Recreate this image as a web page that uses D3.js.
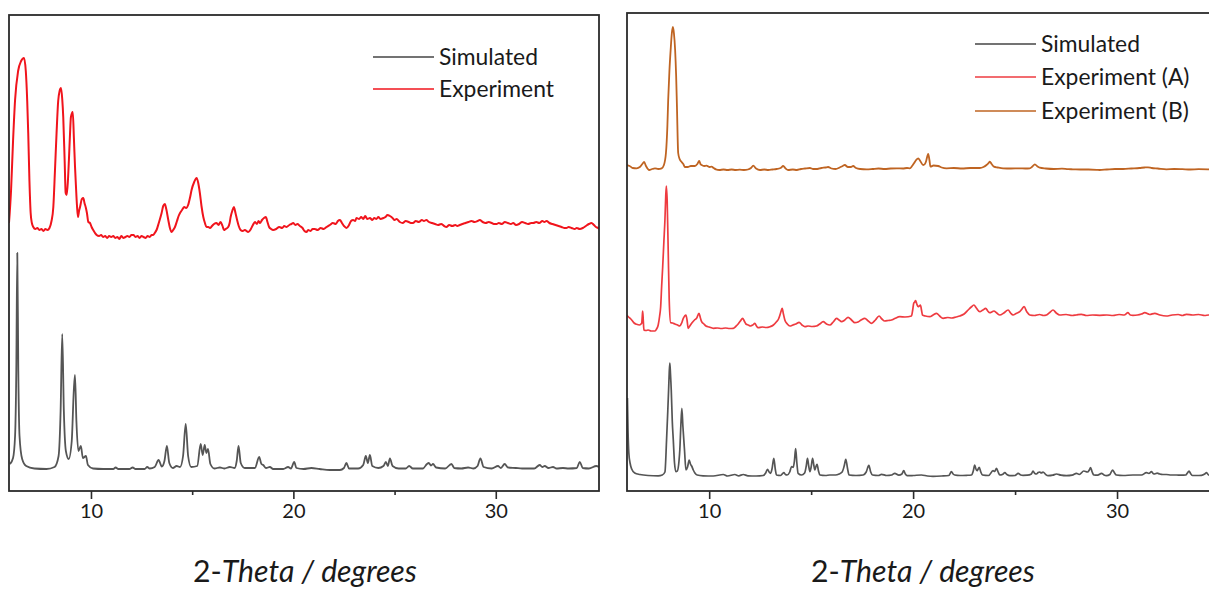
<!DOCTYPE html>
<html><head><meta charset="utf-8">
<script src="https://cdn.jsdelivr.net/npm/d3@7"></script>
<style>
html,body{margin:0;padding:0;background:#fff;}
svg{display:block;font-family:Lato,"Open Sans",sans-serif;}
</style></head>
<body><svg id="chart" width="1209" height="590"></svg>
<script>
// ---------- data (2-theta in degrees, intensity in arbitrary units) ----------
const majorTicks = [10, 20, 30];
const minorTicks = [15, 25];
const axisTitleUpright = "2-";
const axisTitleItalic = "Theta / degrees";
const leftLegend = ["Simulated", "Experiment"];
const rightLegend = ["Simulated", "Experiment (A)", "Experiment (B)"];

const leftSimulated = [[6.0,27],[6.15,33],[6.25,55],[6.31,120],[6.36,238],[6.41,120],[6.47,55],[6.6,32],[6.8,25],[7.2,22.5],[7.8,22],[8.2,24],[8.4,35],[8.5,80],[8.58,157],[8.66,80],[8.76,40],[8.9,32],[9.05,50],[9.15,100],[9.21,116],[9.28,70],[9.38,40],[9.5,45],[9.6,33],[9.75,35],[9.85,26],[10.1,22.5],[10.6,22],[11.1,22],[11.22,23.5],[11.35,22],[11.9,22],[12.06,23.5],[12.2,22],[12.65,22],[12.78,24],[12.9,22.5],[13.15,24],[13.34,31],[13.5,24.5],[13.63,30],[13.75,45],[13.87,28],[14.05,23],[14.23,25],[14.4,24],[14.55,35],[14.68,67],[14.8,35],[14.95,24],[15.25,25],[15.42,47],[15.52,36],[15.62,46],[15.7,38],[15.78,42],[15.9,27],[16.1,22.5],[16.37,23.5],[16.6,22.5],[16.86,24],[17.1,23],[17.2,30],[17.29,45],[17.4,28],[17.6,23],[18.1,23],[18.31,34],[18.42,27],[18.51,26],[18.65,23],[18.84,24],[19.0,22],[19.5,22],[19.74,24],[19.88,22.5],[20.04,29],[20.15,23],[20.5,22],[20.89,23],[21.3,22],[21.8,21],[22.3,21],[22.5,23],[22.62,28],[22.75,22.5],[23.2,22.5],[23.45,26],[23.58,35],[23.68,28],[23.78,36],[23.9,25],[24.2,23],[24.45,25],[24.57,29],[24.67,25],[24.77,32.7],[24.9,25],[25.2,22.5],[25.55,22.5],[25.72,25],[25.9,22.5],[26.4,22.5],[26.6,27],[26.69,28],[26.8,25.5],[26.9,27],[27.05,23.5],[27.5,22.5],[27.81,27],[27.95,23],[28.3,22.5],[28.63,23.5],[28.9,22.5],[29.1,25],[29.24,32.7],[29.4,24],[29.8,22.5],[30.11,25],[30.25,23],[30.44,27],[30.6,23.5],[30.99,23],[31.3,22.5],[31.9,22.5],[32.17,26],[32.3,24],[32.42,25],[32.6,23],[32.83,24],[33.0,22.5],[33.32,23],[33.6,22.5],[34.0,23],[34.15,29],[34.3,23],[34.6,22.5],[34.97,25],[35.1,24]];

const leftExperiment = [[5.95,268],[6.05,300],[6.15,350],[6.25,391],[6.4,420],[6.55,430],[6.69,433],[6.78,420],[6.85,390],[6.9,358],[6.96,310],[7.02,278],[7.08,268],[7.15,264],[7.25,262],[7.35,263],[7.45,261],[7.55,262],[7.65,260],[7.75,262],[7.85,261],[7.95,263],[8.05,270],[8.14,284],[8.22,320],[8.3,358],[8.38,390],[8.45,400],[8.52,403],[8.58,392],[8.63,374],[8.7,330],[8.75,298],[8.8,296],[8.86,310],[8.91,331],[8.96,355],[9.01,374],[9.1,379],[9.16,351],[9.21,325],[9.26,304],[9.31,285],[9.36,274],[9.41,280],[9.46,284],[9.55,292],[9.62,293],[9.68,288],[9.75,283],[9.8,278],[9.87,269],[9.95,268],[10.03,264],[10.11,261],[10.2,258],[10.28,256],[10.4,255],[10.5,256],[10.6,254],[10.7,255],[10.8,253],[10.9,255],[11.0,254],[11.1,255],[11.2,253],[11.3,254],[11.4,252],[11.5,255],[11.6,253],[11.7,254],[11.8,255],[11.9,254],[12.0,256],[12.1,256],[12.2,254],[12.3,255],[12.4,253],[12.5,255],[12.6,254],[12.7,253],[12.8,255],[12.9,254],[13.0,256],[13.07,256],[13.15,258],[13.24,261],[13.35,268],[13.49,278],[13.57,285],[13.65,287],[13.72,282],[13.82,271],[13.9,263],[13.98,259],[14.06,261],[14.15,264],[14.25,270],[14.33,275],[14.4,278],[14.5,281],[14.61,284],[14.7,283],[14.8,286],[14.9,294],[14.97,301],[15.1,309],[15.22,313],[15.3,308],[15.38,298],[15.46,285],[15.55,274],[15.63,268],[15.71,264],[15.8,264],[15.88,263],[15.98,265],[16.08,267],[16.2,268],[16.3,266],[16.4,269],[16.5,265],[16.57,261],[16.65,262],[16.78,264],[16.85,268],[16.9,274],[16.98,280],[17.06,284],[17.14,278],[17.22,271],[17.3,265],[17.39,261],[17.5,260],[17.6,261],[17.77,259],[17.9,262],[18.0,266],[18.1,269],[18.2,267],[18.28,270],[18.35,268],[18.45,271],[18.55,273],[18.64,274],[18.72,269],[18.8,264],[18.9,262],[19.0,261],[19.15,262],[19.3,264],[19.45,263],[19.55,265],[19.66,264],[19.8,266],[19.9,267],[19.99,268],[20.1,266],[20.2,267],[20.32,265],[20.45,263],[20.55,260],[20.65,259],[20.73,261],[20.85,260],[20.95,262],[21.06,262],[21.2,261],[21.35,263],[21.5,262],[21.64,264],[21.8,266],[21.95,268],[22.1,267],[22.2,270],[22.3,271],[22.4,268],[22.5,265],[22.62,263],[22.75,266],[22.85,270],[22.95,271],[23.05,270],[23.12,273],[23.25,272],[23.35,274],[23.45,272],[23.55,275],[23.65,272],[23.78,273],[23.9,271],[24.0,273],[24.1,272],[24.2,274],[24.3,272],[24.45,273],[24.55,274],[24.65,276],[24.77,275],[24.9,273],[25.0,271],[25.1,272],[25.26,269],[25.4,268],[25.55,270],[25.7,269],[25.8,268],[25.91,268],[26.05,270],[26.2,269],[26.35,271],[26.45,270],[26.57,271],[26.7,269],[26.85,268],[27.0,267],[27.15,266],[27.3,267],[27.45,265],[27.56,264],[27.7,266],[27.85,265],[28.0,266],[28.1,265],[28.22,266],[28.35,267],[28.5,268],[28.65,269],[28.8,270],[28.95,269],[29.1,270],[29.21,271],[29.35,269],[29.5,268],[29.65,269],[29.8,268],[29.9,267],[30.04,267],[30.15,268],[30.3,267],[30.45,269],[30.6,268],[30.75,267],[30.86,268],[31.0,266],[31.15,267],[31.3,269],[31.45,268],[31.6,267],[31.75,268],[31.85,268],[32.0,269],[32.15,268],[32.3,270],[32.4,269],[32.51,270],[32.65,268],[32.8,267],[32.95,266],[33.1,265],[33.25,264],[33.4,263],[33.49,263],[33.6,264],[33.75,263],[33.9,262],[34.0,263],[34.15,262],[34.3,263],[34.45,265],[34.6,267],[34.73,268],[34.85,266],[34.95,264],[35.05,263],[35.1,262]];

const rightSimulated = [[5.99,93],[6.02,60],[6.06,38],[6.12,28],[6.2,22],[6.35,18],[6.6,16.5],[7.0,15.5],[7.5,15.2],[7.7,16],[7.83,19],[7.91,51],[7.97,80],[8.01,101],[8.04,118],[8.07,128],[8.1,118],[8.14,101],[8.19,70],[8.24,51],[8.3,28],[8.37,19.3],[8.44,20],[8.52,30],[8.56,41],[8.61,65],[8.66,82.7],[8.71,65],[8.79,41],[8.86,21],[8.94,24],[9.02,31],[9.08,27],[9.14,25],[9.22,21],[9.3,18],[9.41,16],[9.7,15.2],[10.2,15],[10.69,16.5],[10.9,15],[11.26,16.5],[11.45,15.2],[11.67,16.5],[11.9,15.2],[12.3,15],[12.65,15.5],[12.77,18],[12.86,21.7],[12.94,19],[13.01,17.7],[13.08,22],[13.17,32.7],[13.24,22],[13.3,16],[13.5,15.5],[13.66,18.3],[13.74,16.5],[13.82,16],[13.95,19],[14.04,24.3],[14.12,23.7],[14.18,30],[14.24,42.3],[14.3,28],[14.36,17.7],[14.53,16],[14.68,18],[14.76,25],[14.82,32.7],[14.88,25],[14.94,19.3],[15.0,24],[15.07,32.7],[15.13,26],[15.18,21],[15.23,24],[15.29,26.7],[15.36,20],[15.43,16],[15.7,15.5],[15.92,16],[16.2,16],[16.37,17],[16.52,19],[16.62,25],[16.7,31.7],[16.78,23],[16.86,16],[17.2,15.5],[17.55,16],[17.7,19],[17.83,25.7],[17.92,19],[18.01,16],[18.3,15.5],[18.45,16.7],[18.7,15.5],[18.95,16],[19.1,17.7],[19.3,15.8],[19.45,17],[19.54,20.3],[19.62,17],[19.71,15.3],[20.0,15.5],[20.41,16],[20.7,15],[20.98,14.7],[21.4,15],[21.75,15.5],[21.88,19.3],[21.96,17],[22.04,16],[22.3,15.5],[22.62,15.7],[22.86,16],[22.95,20],[23.02,26],[23.08,22],[23.14,20.3],[23.19,22],[23.24,23.7],[23.32,19],[23.4,16],[23.7,15.5],[23.92,20.3],[24.0,19.5],[24.09,22.7],[24.17,19],[24.25,16],[24.38,16.5],[24.5,18.3],[24.6,16.5],[24.74,15.3],[25.0,15.5],[25.15,17.7],[25.28,16],[25.39,15.7],[25.6,15.8],[25.8,17],[25.88,20],[25.97,17.5],[26.05,17],[26.13,18.5],[26.21,19],[26.29,18],[26.37,19],[26.5,16.5],[26.62,15.3],[26.85,15.8],[27.03,17],[27.25,15.8],[27.52,15.3],[27.8,15.8],[28.01,17.7],[28.15,16.5],[28.37,20],[28.55,19],[28.64,21],[28.7,23.3],[28.78,19],[28.86,16],[29.05,15.8],[29.24,17.7],[29.36,16],[29.48,15.3],[29.65,16.5],[29.78,21],[29.88,18],[29.97,16],[30.3,15.5],[30.78,16],[31.2,16],[31.44,18.3],[31.56,17.5],[31.69,19.3],[31.77,17.5],[31.85,17],[31.97,17.8],[32.09,17],[32.25,16.5],[32.42,16.5],[32.65,16],[32.91,16],[33.15,15.8],[33.37,16],[33.45,18],[33.53,20],[33.62,17],[33.7,15.5],[33.9,15.5],[34.14,15.7],[34.3,17],[34.39,18.3],[34.49,16],[34.8,15.5],[35.0,15.5]];

const rightExperimentA = [[5.95,176],[6.05,174],[6.2,171],[6.32,168],[6.44,166.7],[6.58,166],[6.69,167.7],[6.72,175],[6.74,180],[6.77,170],[6.8,161],[6.9,160.5],[7.01,161],[7.15,160],[7.34,160],[7.42,162],[7.5,166],[7.57,175],[7.62,184],[7.67,205],[7.72,224],[7.78,250],[7.83,271],[7.87,295],[7.9,305],[7.94,290],[7.99,241],[8.04,191],[8.11,168.3],[8.2,168],[8.32,167],[8.45,166],[8.56,165],[8.65,168],[8.73,172.7],[8.8,175],[8.86,176],[8.92,170],[8.97,162.7],[9.05,165],[9.15,168],[9.28,171],[9.38,172.7],[9.5,177.7],[9.57,173],[9.63,169.3],[9.74,167],[9.84,165],[10.0,164],[10.2,162.7],[10.4,163],[10.6,162.5],[10.8,163],[11.0,162.5],[11.18,162.7],[11.3,164.5],[11.42,167],[11.53,170],[11.64,172.7],[11.72,170],[11.8,167],[11.92,166],[12.03,165],[12.14,166],[12.24,167.7],[12.32,165],[12.4,163.3],[12.6,164],[12.8,163.5],[12.98,164.3],[13.15,166],[13.3,169.3],[13.4,172],[13.47,176],[13.53,180],[13.58,182.7],[13.64,177],[13.71,171],[13.83,167],[13.96,165],[14.1,166],[14.25,167],[14.41,168.7],[14.55,166],[14.69,164.3],[14.85,165],[15.05,164.5],[15.26,165],[15.42,167],[15.59,169.3],[15.75,167],[15.92,166],[16.08,169],[16.25,172.7],[16.37,171],[16.49,169.3],[16.65,171],[16.81,173.7],[16.98,171],[17.14,168.3],[17.3,169],[17.45,171],[17.63,172.7],[17.8,170],[17.96,167.7],[18.15,171],[18.33,175],[18.47,172],[18.61,170],[18.78,170.5],[18.94,171],[19.1,172.5],[19.35,174.3],[19.6,174],[19.92,175],[19.98,181],[20.03,187.7],[20.08,189],[20.12,190.3],[20.18,187],[20.25,184.3],[20.3,185],[20.36,186],[20.41,181],[20.46,176],[20.6,175],[20.82,174.3],[20.98,176],[21.15,177.7],[21.3,175],[21.47,172.7],[21.7,173.5],[21.9,173],[22.1,174],[22.29,175],[22.5,177],[22.7,181],[22.85,184],[22.98,186],[23.1,183],[23.27,179.3],[23.42,181],[23.56,182.7],[23.66,180],[23.76,178.3],[23.86,179],[23.96,180],[24.1,178],[24.25,176],[24.45,178],[24.66,181],[24.78,178],[24.9,176],[25.05,177.5],[25.23,179.3],[25.34,182],[25.44,184.3],[25.58,179],[25.72,176],[25.95,175.5],[26.2,176.5],[26.4,175.5],[26.54,176],[26.7,178.5],[26.86,181],[27.02,178],[27.19,176],[27.5,176.5],[27.8,175.5],[28.0,176],[28.25,176.7],[28.5,175.5],[28.8,176],[29.15,175.7],[29.5,176],[29.8,175.5],[30.1,176.5],[30.35,176],[30.54,178.3],[30.65,176],[30.78,175.7],[31.0,176],[31.2,177],[31.36,178.3],[31.6,176.5],[31.85,177.7],[32.1,176],[32.42,175],[32.7,176],[33.0,176.5],[33.2,175.5],[33.4,176.7],[33.7,176],[34.0,176.5],[34.3,175.5],[34.49,176],[35.0,176]];

const rightExperimentB = [[5.95,326],[6.1,325],[6.25,323],[6.44,322.7],[6.6,324],[6.72,327],[6.81,329],[6.9,325],[7.06,321],[7.2,322],[7.34,322.7],[7.5,322],[7.67,322.7],[7.78,326],[7.88,338],[7.95,365],[7.99,391],[8.05,420],[8.11,441],[8.17,458],[8.22,464],[8.27,458],[8.33,441],[8.38,415],[8.42,384],[8.48,338],[8.55,332],[8.65,329],[8.73,327],[8.81,324],[8.95,324],[9.1,325],[9.3,325],[9.42,327],[9.51,330],[9.57,327],[9.63,326],[9.75,325],[9.87,325.3],[10.0,324],[10.12,324.3],[10.22,323],[10.33,321.7],[10.5,321],[10.7,321.5],[10.9,321],[11.1,321.5],[11.3,321],[11.5,321.3],[11.7,321],[11.9,321.5],[12.05,323],[12.16,325.3],[12.3,322.5],[12.49,321],[12.7,321.5],[12.9,321],[13.1,321.5],[13.3,322],[13.5,323],[13.63,325],[13.75,322.5],[13.87,321],[14.1,321.5],[14.3,321],[14.5,322],[14.7,322.5],[14.94,323],[15.1,322],[15.3,322],[15.5,323],[15.7,323.5],[15.83,324],[16.0,322.5],[16.2,322],[16.4,323.5],[16.55,325],[16.65,326],[16.8,324],[16.95,324],[17.06,325],[17.2,323],[17.4,322],[17.72,321.7],[18.0,322],[18.3,322.5],[18.6,322],[18.9,322.5],[19.2,322.7],[19.5,322.5],[19.7,323],[19.84,322.7],[19.95,325],[20.05,328],[20.15,331],[20.25,332.7],[20.35,330],[20.49,326],[20.58,327],[20.64,330],[20.7,335],[20.74,337],[20.8,331],[20.85,324.3],[21.0,325.5],[21.23,325],[21.4,323.5],[21.64,322.7],[22.0,323],[22.4,322.5],[22.8,323],[23.1,323],[23.27,323],[23.45,324],[23.6,326],[23.7,328],[23.76,329.3],[23.85,327],[23.96,324.3],[24.15,323.5],[24.41,322.7],[24.8,322.5],[25.2,322.7],[25.5,322.5],[25.72,322.7],[25.85,324.5],[25.97,326.7],[26.1,324.5],[26.21,323.3],[26.5,322.5],[26.9,322],[27.3,322.3],[27.6,321.8],[27.84,321.7],[28.2,321.5],[28.6,321.5],[29.0,321.2],[29.15,321],[29.5,321.5],[29.9,322],[30.3,322],[30.7,322.5],[31.1,323],[31.35,323.5],[31.52,323.7],[31.7,323],[32.0,322.5],[32.42,321.7],[32.8,322],[33.2,321.8],[33.6,321.5],[34.0,321.8],[34.49,321.7],[35.0,321.5]];

// ---------- drawing ----------
const svg = d3.select("#chart");
const FONT = "Lato, 'Open Sans', sans-serif";

function fitSize(text, targetWidth, italic) {
  const t = svg.append("text").attr("font-size", 100).attr("font-family", FONT)
    .style("font-style", italic ? "italic" : "normal").text(text);
  const w = t.node().getComputedTextLength();
  t.remove();
  return 100 * targetWidth / w;
}
const legendSize = fitSize("Simulated", 99, false);
const tickFont = 20;

const panels = [
  { id: "L", x: [9, 599], y: [491, 15], xDomain: [5.95, 35.1], yDomain: [0, 476],
    series: [
      { data: leftSimulated, color: "#555555", width: 1.8 },
      { data: leftExperiment, color: "#f0141c", width: 2 }
    ],
    legend: { labels: leftLegend, colors: ["#444444", "#f0141c"], x1: 373, x2: 434, ys: [57, 89] },
    titleX: 305 },
  { id: "R", x: [627, 1219], y: [491, 13], xDomain: [5.97, 35], yDomain: [0, 478],
    series: [
      { data: rightSimulated, color: "#555555", width: 1.7 },
      { data: rightExperimentA, color: "#ee3b40", width: 1.7 },
      { data: rightExperimentB, color: "#bf6422", width: 1.8 }
    ],
    legend: { labels: rightLegend, colors: ["#444444", "#ee3b40", "#bf6422"], x1: 975, x2: 1036, ys: [44, 77, 111] },
    titleX: 923 }
];

panels.forEach(p => {
  const xs = d3.scaleLinear().domain(p.xDomain).range(p.x);
  const ys = d3.scaleLinear().domain(p.yDomain).range(p.y);
  const g = svg.append("g");

  g.append("clipPath").attr("id", "clip" + p.id).append("rect")
    .attr("x", p.x[0]).attr("y", p.y[1]).attr("width", p.x[1] - p.x[0]).attr("height", p.y[0] - p.y[1]);

  const line = d3.line().x(d => xs(d[0])).y(d => ys(d[1])).curve(d3.curveMonotoneX);
  p.series.forEach(s => {
    g.append("path").datum(s.data).attr("clip-path", `url(#clip${p.id})`)
      .attr("d", line).attr("fill", "none").attr("stroke", s.color)
      .attr("stroke-width", s.width).attr("stroke-linejoin", "round");
  });

  // frame
  g.append("rect").attr("x", p.x[0]).attr("y", p.y[1])
    .attr("width", p.x[1] - p.x[0]).attr("height", p.y[0] - p.y[1])
    .attr("fill", "none").attr("stroke", "#2b2b2b").attr("stroke-width", 1.8);

  // axes
  const ax = g.append("g").attr("transform", `translate(0,${p.y[0]})`)
    .call(d3.axisBottom(xs).tickValues(majorTicks).tickSize(8).tickPadding(5).tickFormat(d3.format("d")));
  ax.attr("font-size", tickFont).attr("font-family", FONT);
  ax.select(".domain").remove();
  ax.selectAll("line").attr("stroke", "#2b2b2b").attr("stroke-width", 1.6);
  ax.selectAll("text").style("font-size", tickFont + "px").attr("fill", "#1a1a1a");

  const axm = g.append("g").attr("transform", `translate(0,${p.y[0]})`)
    .call(d3.axisBottom(xs).tickValues(minorTicks).tickSize(4).tickFormat(""));
  axm.select(".domain").remove();
  axm.selectAll("line").attr("stroke", "#2b2b2b").attr("stroke-width", 1.6);

  // legend
  p.legend.labels.forEach((lab, i) => {
    const yy = p.legend.ys[i];
    g.append("line").attr("x1", p.legend.x1).attr("x2", p.legend.x2).attr("y1", yy).attr("y2", yy)
      .attr("stroke", p.legend.colors[i]).attr("stroke-width", 1.6);
    g.append("text").attr("x", p.legend.x2 + 5).attr("y", yy).attr("dy", "0.35em")
      .attr("font-family", FONT).attr("font-size", legendSize).attr("fill", "#1a1a1a").text(lab);
  });

  // axis title
  const t = g.append("text").attr("x", p.titleX).attr("y", 582).attr("text-anchor", "middle")
    .attr("font-family", FONT).attr("fill", "#1a1a1a");
  t.append("tspan").text(axisTitleUpright);
  t.append("tspan").style("font-style", "italic").text(axisTitleItalic);
  const fs0 = 16;
  t.attr("font-size", fs0);
  const w0 = t.node().getComputedTextLength();
  t.attr("font-size", fs0 * 224 / w0);
});
</script></body></html>
